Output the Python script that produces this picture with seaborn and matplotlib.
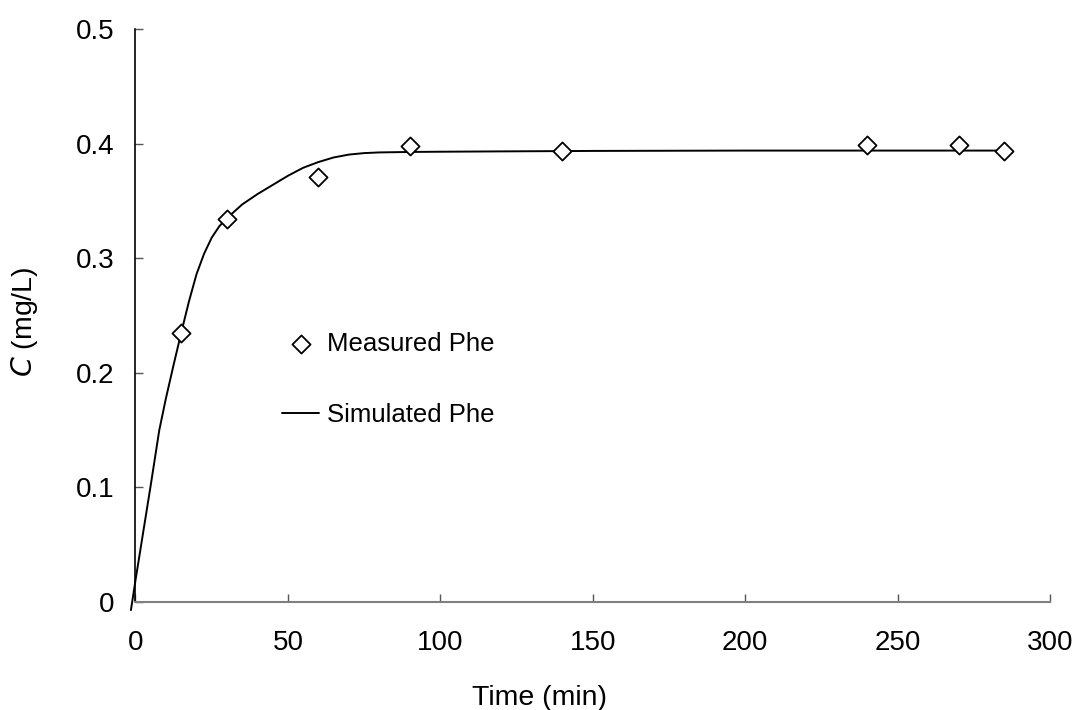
import matplotlib
matplotlib.use("Agg")
import matplotlib.pyplot as plt
import seaborn as sns
import pandas as pd

# Measured data
meas_t = [15, 30, 60, 90, 140, 240, 270, 285]
meas_c = [0.235, 0.334, 0.371, 0.398, 0.394, 0.399, 0.399, 0.394]

# Simulated curve
sim_t = [-1.5, 0, 5, 7.8, 10, 12.5, 15, 17.5, 20, 22.5, 25, 27.5, 30, 35, 40, 45,
         50, 55, 60, 65, 70, 75, 80, 90, 100, 120, 150, 200, 250, 285]
sim_c = [-0.007, 0.019, 0.102, 0.150, 0.178, 0.207, 0.235, 0.262, 0.286, 0.304,
         0.318, 0.328, 0.335, 0.347, 0.356, 0.364, 0.372, 0.379, 0.384, 0.388,
         0.3905, 0.3918, 0.3924, 0.3928, 0.393, 0.3933, 0.3937, 0.394, 0.394, 0.394]

x_ticks = [0, 50, 100, 150, 200, 250, 300]
y_ticks = [0, 0.1, 0.2, 0.3, 0.4, 0.5]
y_tick_labels = ["0", "0.1", "0.2", "0.3", "0.4", "0.5"]

sns.set_theme(style="white")
plt.rcParams["font.family"] = ["Liberation Sans", "DejaVu Sans"]
plt.rcParams["xtick.direction"] = "in"
plt.rcParams["ytick.direction"] = "in"
plt.rcParams["text.color"] = "black"
plt.rcParams["axes.labelcolor"] = "black"

fig = plt.figure(figsize=(10.77, 7.10), dpi=100)
ax = fig.add_axes([0.1258, 0.152, 0.8492, 0.807])

sim_df = pd.DataFrame({"t": sim_t, "c": sim_c})
meas_df = pd.DataFrame({"t": meas_t, "c": meas_c})

sns.lineplot(data=sim_df, x="t", y="c", ax=ax, color="black", linewidth=1.4,
             sort=False, estimator=None, label="Simulated Phe", clip_on=False)
sns.scatterplot(data=meas_df, x="t", y="c", ax=ax, marker="D", s=85,
                facecolor="white", edgecolor="black", linewidth=1.3,
                label="Measured Phe", zorder=3, clip_on=False)

ax.set_xlim(0, 300)
ax.set_ylim(0, 0.5)
ax.set_xticks(x_ticks)
ax.set_xticklabels([str(v) for v in x_ticks])
ax.set_yticks(y_ticks)
ax.set_yticklabels(y_tick_labels)

for s in ["top", "right"]:
    ax.spines[s].set_visible(False)
ax.spines["left"].set_color("black")
ax.spines["bottom"].set_color("#808080")
ax.spines["left"].set_linewidth(1.2)
ax.spines["bottom"].set_linewidth(1.5)

ax.tick_params(axis="both", direction="in", length=6, width=1.0, colors="#555555",
               labelcolor="black", labelsize=20)
ax.tick_params(axis="x", pad=20, bottom=True)
ax.tick_params(axis="y", pad=15, left=True)

ax.set_xlabel("Time (min)", fontsize=20.5, color="black")
ax.xaxis.set_label_coords(0.442, -0.145)
ax.set_ylabel(r"$C$ (mg/L)", fontsize=20.5, color="black")
ax.yaxis.set_label_coords(-0.104, 0.49)

handles, labels = ax.get_legend_handles_labels()
order = [labels.index("Measured Phe"), labels.index("Simulated Phe")]
leg = ax.legend([handles[i] for i in order], [labels[i] for i in order],
                loc="upper left", bbox_to_anchor=(0.135, 0.512), frameon=False,
                fontsize=18.5, labelspacing=1.85, handlelength=1.45, handletextpad=0.3)
for txt in leg.get_texts():
    txt.set_color("black")

fig.savefig("out.png", dpi=100)
